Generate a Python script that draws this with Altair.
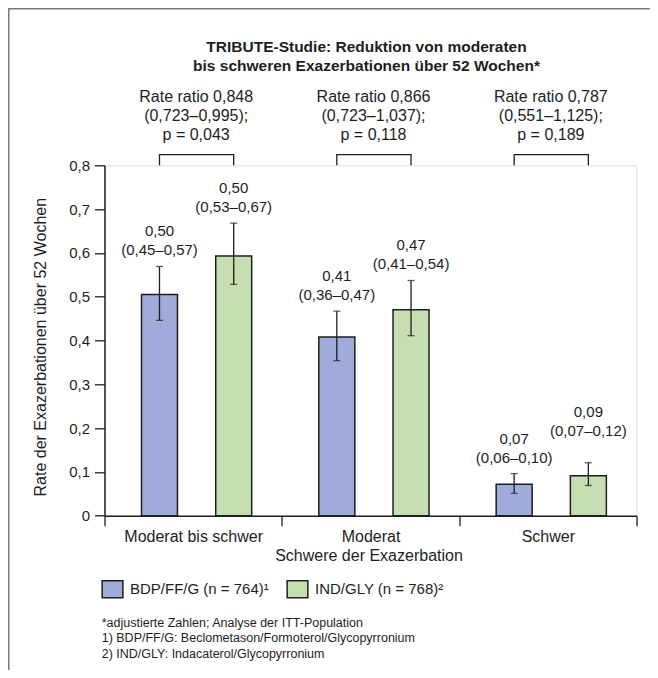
import altair as alt
import pandas as pd

# ---------------- data ----------------
categories = ["Moderat bis schwer", "Moderat", "Schwer"]
groups = ["BDP/FF/G (n = 764)¹", "IND/GLY (n = 768)²"]

bdp_rate = [0.505, 0.408, 0.072]
bdp_lo = [0.446, 0.354, 0.051]
bdp_hi = [0.569, 0.467, 0.096]
bdp_lbl1 = ["0,50", "0,41", "0,07"]
bdp_lbl2 = ["(0,45–0,57)", "(0,36–0,47)", "(0,06–0,10)"]

ind_rate = [0.593, 0.470, 0.091]
ind_lo = [0.528, 0.411, 0.069]
ind_hi = [0.668, 0.537, 0.121]
ind_lbl1 = ["0,50", "0,47", "0,09"]
ind_lbl2 = ["(0,53–0,67)", "(0,41–0,54)", "(0,07–0,12)"]

rr_ratio = ["Rate ratio 0,848", "Rate ratio 0,866", "Rate ratio 0,787"]
rr_ci = ["(0,723–0,995);", "(0,723–1,037);", "(0,551–1,125);"]
rr_p = ["p = 0,043", "p = 0,118", "p = 0,189"]

y_ticks = [0, 0.1, 0.2, 0.3, 0.4, 0.5, 0.6, 0.7, 0.8]

title_lines = ["TRIBUTE-Studie: Reduktion von moderaten",
               "bis schweren Exazerbationen über 52 Wochen*"]
footnotes = ["*adjustierte Zahlen; Analyse der ITT-Population",
             "1) BDP/FF/G: Beclometason/Formoterol/Glycopyrronium",
             "2) IND/GLY: Indacaterol/Glycopyrronium"]

# ---------------- tables ----------------
rows = []
for i, c in enumerate(categories):
    rows.append(dict(cat=c, grp=groups[0], rate=bdp_rate[i], lo=bdp_lo[i], hi=bdp_hi[i],
                     l1=bdp_lbl1[i], l2=bdp_lbl2[i], k=i * 2))
    rows.append(dict(cat=c, grp=groups[1], rate=ind_rate[i], lo=ind_lo[i], hi=ind_hi[i],
                     l1=ind_lbl1[i], l2=ind_lbl2[i], k=i * 2 + 1))
df = pd.DataFrame(rows)

br_rows = []
for c in categories:
    br_rows += [dict(cat=c, grp=groups[0], o=0), dict(cat=c, grp=groups[0], o=1),
                dict(cat=c, grp=groups[1], o=2), dict(cat=c, grp=groups[1], o=3)]
df_br = pd.DataFrame(br_rows)

df_rr = pd.DataFrame(dict(cat=categories,
                          txt=[f"{a}\n{b}\n{p}" for a, b, p in zip(rr_ratio, rr_ci, rr_p)]))
df_foot = pd.DataFrame(dict(t=["\n".join(footnotes)]))
df_title = pd.DataFrame(dict(t=["\n".join(title_lines)]))

# ---------------- styling ----------------
BLUE = "#9FABD8"
GREEN = "#C5DFB2"
INK = "#1e1e1e"
FONT = "Liberation Sans"
W, H = 532, 350.4

x_scale = alt.Scale(domain=categories, paddingInner=0, paddingOuter=0)
xo_scale = alt.Scale(domain=groups, range=[37, 147.2], paddingInner=0.515, paddingOuter=0)
y_scale = alt.Scale(domain=[0, 0.8], nice=False, zero=True)

x_axis = alt.Axis(title="Schwere der Exazerbation", tickBand="extent", tickSize=10,
                  labelAngle=0, labelFontSize=16, labelBaseline="alphabetic", labelPadding=15.3,
                  titleFontSize=16, titleFontWeight="normal", titleX=264, titleY=44.3,
                  titleBaseline="alphabetic", domainColor=INK, tickColor=INK, domainWidth=1.5,
                  tickWidth=1.3, labelColor=INK, titleColor=INK)
y_axis = alt.Axis(title="Rate der Exazerbationen über 52 Wochen", values=y_ticks,
                  labelExpr="datum.value == 0 ? '0' : replace(format(datum.value, '.1f'), '.', ',')",
                  tickSize=10, labelPadding=5, labelFontSize=15, grid=False,
                  titleFontSize=16, titleFontWeight="normal", titleX=-64, titleY=181.4,
                  titleBaseline="middle", domainColor=INK, tickColor=INK, domainWidth=1.5,
                  tickWidth=1.3, labelColor=INK, titleColor=INK)

X = alt.X("cat:N", sort=categories, scale=x_scale, axis=x_axis)
XO = alt.XOffset("grp:N", sort=groups, scale=xo_scale)

base = alt.Chart(df)

bars = base.mark_bar(stroke=INK, strokeWidth=1.5).encode(
    x=X, xOffset=XO,
    y=alt.Y("rate:Q", scale=y_scale, axis=y_axis),
    color=alt.Color("grp:N", sort=groups, scale=alt.Scale(domain=groups, range=[BLUE, GREEN]),
                    legend=alt.Legend(title=None, orient="none", direction="horizontal",
                                      legendX=-3.5, legendY=412.5, padding=0,
                                      symbolType="M-1,-0.82H1V0.82H-1Z", symbolSize=428,
                                      symbolStrokeColor=INK, symbolStrokeWidth=1.5,
                                      labelFontSize=15, labelOffset=6, columnPadding=15,
                                      labelColor=INK, labelLimit=400)),
)

err = base.mark_rule(color=INK, strokeWidth=1.3).encode(
    x=X, xOffset=XO, y=alt.Y("lo:Q", scale=y_scale, axis=y_axis), y2="hi:Q")
cap_lo = base.mark_tick(color=INK, size=7, thickness=1.3).encode(
    x=X, xOffset=XO, y=alt.Y("lo:Q", scale=y_scale, axis=y_axis))
cap_hi = base.mark_tick(color=INK, size=7, thickness=1.3).encode(
    x=X, xOffset=XO, y=alt.Y("hi:Q", scale=y_scale, axis=y_axis))

# the last green label sits higher in the original, to clear its neighbour
lift = "datum.hi + (datum.k == 5 ? 0.0365 : 0)"
lab2 = base.transform_calculate(ly=lift).mark_text(
    fontSize=15, baseline="alphabetic", dy=-11, color=INK, font=FONT).encode(
    x=X, xOffset=XO, y=alt.Y("ly:Q", scale=y_scale, axis=y_axis), text="l2:N")
lab1 = base.transform_calculate(ly=lift).mark_text(
    fontSize=15, baseline="alphabetic", dy=-30, color=INK, font=FONT).encode(
    x=X, xOffset=XO, y=alt.Y("ly:Q", scale=y_scale, axis=y_axis), text="l1:N")

brackets = alt.Chart(df_br).transform_calculate(
    by="datum.o == 1 || datum.o == 2 ? 0.8242 : 0.8").mark_line(
    color=INK, strokeWidth=1.3).encode(
    x=X, xOffset=XO, y=alt.Y("by:Q", scale=y_scale, axis=y_axis),
    detail="cat:N", order="o:Q")

rr_text = alt.Chart(df_rr).mark_text(
    fontSize=16, baseline="alphabetic", lineBreak="\n", lineHeight=19, dx=3,
    color=INK, font=FONT).encode(
    x=X, y=alt.value(-63.6), text="txt:N")

title_text = alt.Chart(df_title).mark_text(
    fontSize=15.5, fontWeight="bold", align="center", baseline="alphabetic",
    lineBreak="\n", lineHeight=19, color=INK, font=FONT).encode(
    x=alt.value(262), y=alt.value(-113.5), text="t:N")

foot = alt.Chart(df_foot).mark_text(
    fontSize=12.5, align="left", baseline="alphabetic", lineBreak="\n", lineHeight=15.5,
    color=INK, font=FONT).encode(
    x=alt.value(-2.8), y=alt.value(461.4), text="t:N")

frame_v = alt.Chart(df_foot).mark_rule(color="#7a7a7a", strokeWidth=1.5).encode(
    x=alt.value(-95.75), y=alt.value(-157.3), y2=alt.value(504.7))
frame_h = alt.Chart(df_foot).mark_rule(color="#7a7a7a", strokeWidth=1.5).encode(
    y=alt.value(-156.55), x=alt.value(-96.5), x2=alt.value(545.5))

chart = alt.layer(frame_v, frame_h, bars, err, cap_lo, cap_hi, lab1, lab2, brackets,
                  rr_text, title_text, foot).properties(
    width=W, height=H,
    autosize=alt.AutoSizeParams(type="none"),
    padding={"left": 96.5, "top": 157.3, "right": 13.5, "bottom": 154.3},
).configure_view(stroke=None).configure(font=FONT)

chart.save("out.html", embed_options={"renderer": "svg", "actions": False})
